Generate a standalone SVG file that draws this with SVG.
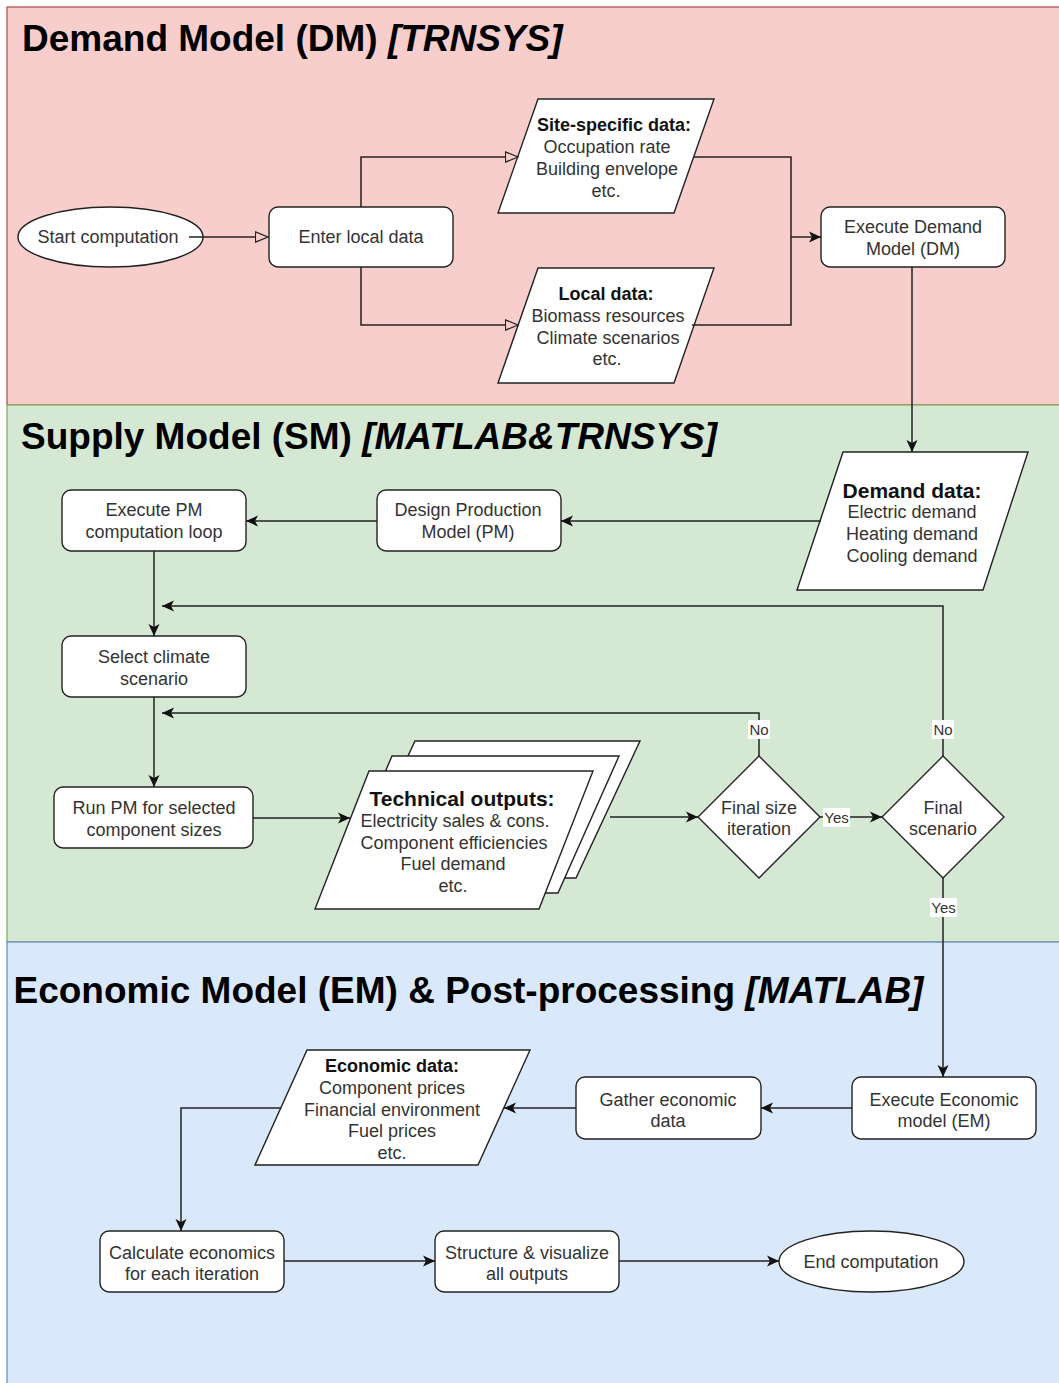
<svg xmlns="http://www.w3.org/2000/svg" width="1059" height="1383" viewBox="0 0 1059 1383">
  <defs>
    <style>
      .t { font-family: "Liberation Sans", Arial, sans-serif; font-size: 18px; fill: #333; text-anchor: middle; }
      .hd { font-weight: bold; fill: #111; }
      .big { font-size: 21px; }
      .title { font-family: "Liberation Sans", Arial, sans-serif; font-size: 37px; font-weight: bold; fill: #000; }
      .box { fill: #fff; stroke: #222; stroke-width: 1.4; }
      .edge { fill: none; stroke: #222; stroke-width: 1.5; }
      .elab { font-family: "Liberation Sans", Arial, sans-serif; font-size: 15px; fill: #333; text-anchor: middle; }
    </style>
    <marker id="arrow" viewBox="0 0 12 12" refX="12" refY="6" markerWidth="12" markerHeight="12" markerUnits="userSpaceOnUse" orient="auto">
      <path d="M0,0.5 L12,6 L0,11.5 L3,6 Z" fill="#111"/>
    </marker>
    <marker id="open" viewBox="0 0 14 12" refX="0.7" refY="6" markerWidth="14" markerHeight="12" markerUnits="userSpaceOnUse" orient="auto">
      <path d="M0.7,0.8 L13.3,6 L0.7,11.2 Z" fill="none" stroke="#222" stroke-width="1.3"/>
    </marker>
  </defs>

  <!-- swimlane backgrounds -->
  <g id="lanes">
    <rect x="7" y="7" width="1062" height="398" fill="#f8cecc" stroke="#b85450" stroke-width="1.3"/>
    <rect x="7" y="405" width="1062" height="537" fill="#d5e8d4" stroke="#82b366" stroke-width="1.3"/>
    <rect x="7" y="942" width="1062" height="450" fill="#dae8fc" stroke="#6c8ebf" stroke-width="1.3"/>
    <text class="title" x="22" y="51">Demand Model (DM) <tspan font-style="italic">[TRNSYS]</tspan></text>
    <text class="title" x="21" y="449">Supply Model (SM) <tspan font-style="italic">[MATLAB&amp;TRNSYS]</tspan></text>
    <text class="title" x="13.5" y="1003">Economic Model (EM) &amp; Post-processing <tspan font-style="italic">[MATLAB]</tspan></text>
  </g>

  <!-- Demand model nodes -->
  <g id="start">
    <ellipse class="box" cx="110.5" cy="237" rx="92.5" ry="30"/>
    <text class="t" x="108" y="243.3">Start computation</text>
  </g>
  <g id="enter-local">
    <rect class="box" x="269" y="207" width="184" height="60" rx="9"/>
    <text class="t" x="361" y="243.3">Enter local data</text>
  </g>
  <g id="site-data">
    <polygon class="box" points="538,99 714,99 674,213 498,213"/>
    <text class="t hd" x="614" y="131.3">Site-specific data:</text>
    <text class="t" x="607" y="153.3">Occupation rate</text>
    <text class="t" x="607" y="175">Building envelope</text>
    <text class="t" x="606" y="196.6">etc.</text>
  </g>
  <g id="local-data">
    <polygon class="box" points="538,268 714,268 674,383 498,383"/>
    <text class="t hd" x="606" y="300.3">Local data:</text>
    <text class="t" x="608" y="322">Biomass resources</text>
    <text class="t" x="608" y="343.6">Climate scenarios</text>
    <text class="t" x="607" y="365.3">etc.</text>
  </g>
  <g id="exec-dm">
    <rect class="box" x="821" y="207" width="184" height="60" rx="9"/>
    <text class="t" x="913" y="233">Execute Demand</text>
    <text class="t" x="913" y="254.6">Model (DM)</text>
  </g>

  <!-- Supply model nodes -->
  <g id="demand-data">
    <polygon class="box" points="843,452 1028,452 983,590 797,590"/>
    <text class="t hd big" x="912" y="497.5">Demand data:</text>
    <text class="t" x="912" y="518.3">Electric demand</text>
    <text class="t" x="912" y="540">Heating demand</text>
    <text class="t" x="912" y="561.6">Cooling demand</text>
  </g>
  <g id="design-pm">
    <rect class="box" x="377" y="490" width="184" height="61" rx="9"/>
    <text class="t" x="468" y="516.3">Design Production</text>
    <text class="t" x="468" y="538">Model (PM)</text>
  </g>
  <g id="exec-pm">
    <rect class="box" x="62" y="490" width="184" height="61" rx="9"/>
    <text class="t" x="154" y="516.3">Execute PM</text>
    <text class="t" x="154" y="538">computation loop</text>
  </g>
  <g id="select-climate">
    <rect class="box" x="62" y="636" width="184" height="61" rx="9"/>
    <text class="t" x="154" y="663">Select climate</text>
    <text class="t" x="154" y="684.6">scenario</text>
  </g>
  <g id="run-pm">
    <rect class="box" x="54" y="787" width="199" height="61" rx="9"/>
    <text class="t" x="154" y="814">Run PM for selected</text>
    <text class="t" x="154" y="835.6">component sizes</text>
  </g>
  <g id="tech-outputs">
    <polygon class="box" points="415,741 640,741 576,878 351,878"/>
    <polygon class="box" points="392,756 619,756 558,893 333,893"/>
    <polygon class="box" points="369,771 593,771 539,909 315,909"/>
    <text class="t hd big" x="462" y="805.8">Technical outputs:</text>
    <text class="t" x="455" y="827">Electricity sales &amp; cons.</text>
    <text class="t" x="454" y="848.7">Component efficiencies</text>
    <text class="t" x="453" y="870.3">Fuel demand</text>
    <text class="t" x="453" y="892">etc.</text>
  </g>
  <g id="final-size">
    <polygon class="box" points="759,756 820,817 759,878 698,817"/>
    <text class="t" x="759" y="813.6">Final size</text>
    <text class="t" x="759" y="835.3">iteration</text>
  </g>
  <g id="final-scenario">
    <polygon class="box" points="943,756 1004,817 943,878 882,817"/>
    <text class="t" x="943" y="813.6">Final</text>
    <text class="t" x="943" y="835.3">scenario</text>
  </g>

  <!-- Economic model nodes -->
  <g id="exec-em">
    <rect class="box" x="852" y="1077" width="184" height="62" rx="9"/>
    <text class="t" x="944" y="1105.6">Execute Economic</text>
    <text class="t" x="944" y="1127.3">model (EM)</text>
  </g>
  <g id="gather">
    <rect class="box" x="576" y="1077" width="185" height="62" rx="9"/>
    <text class="t" x="668" y="1105.6">Gather economic</text>
    <text class="t" x="668" y="1127.3">data</text>
  </g>
  <g id="econ-data">
    <polygon class="box" points="307,1050 530,1050 478,1165 255,1165"/>
    <text class="t hd" x="392" y="1072.3">Economic data:</text>
    <text class="t" x="392" y="1094">Component prices</text>
    <text class="t" x="392" y="1115.6">Financial environment</text>
    <text class="t" x="392" y="1137.3">Fuel prices</text>
    <text class="t" x="392" y="1159">etc.</text>
  </g>
  <g id="calc-econ">
    <rect class="box" x="100" y="1231" width="184" height="61" rx="9"/>
    <text class="t" x="192" y="1258.6">Calculate economics</text>
    <text class="t" x="192" y="1280.3">for each iteration</text>
  </g>
  <g id="structure">
    <rect class="box" x="435" y="1231" width="184" height="61" rx="9"/>
    <text class="t" x="527" y="1258.6">Structure &amp; visualize</text>
    <text class="t" x="527" y="1280.3">all outputs</text>
  </g>
  <g id="end">
    <ellipse class="box" cx="871.5" cy="1261.5" rx="92.5" ry="30.5"/>
    <text class="t" x="871" y="1267.8">End computation</text>
  </g>

  <!-- connectors -->
  <g id="connectors">
    <path class="edge" d="M189,237 H255.4" marker-end="url(#open)"/>
    <path class="edge" d="M361,207 V157 H505.4" marker-end="url(#open)"/>
    <path class="edge" d="M361,267 V325 H505.4" marker-end="url(#open)"/>
    <path class="edge" d="M694,157 H791 V237 H821" marker-end="url(#arrow)"/>
    <path class="edge" d="M692,325 H791 V237"/>
    <path class="edge" d="M912,267 V452" marker-end="url(#arrow)"/>
    <path class="edge" d="M821,521 H561" marker-end="url(#arrow)"/>
    <path class="edge" d="M377,521 H246" marker-end="url(#arrow)"/>
    <path class="edge" d="M154,551 V636" marker-end="url(#arrow)"/>
    <path class="edge" d="M154,697 V787" marker-end="url(#arrow)"/>
    <path class="edge" d="M253,818 H350" marker-end="url(#arrow)"/>
    <path class="edge" d="M610,817 H698" marker-end="url(#arrow)"/>
    <path class="edge" d="M820,817 H882" marker-end="url(#arrow)"/>
    <path class="edge" d="M759,756 V713 H162" marker-end="url(#arrow)"/>
    <path class="edge" d="M943,756 V606 H162" marker-end="url(#arrow)"/>
    <path class="edge" d="M943,878 V1077" marker-end="url(#arrow)"/>
    <path class="edge" d="M852,1108 H761" marker-end="url(#arrow)"/>
    <path class="edge" d="M576,1108 H504" marker-end="url(#arrow)"/>
    <path class="edge" d="M281,1108 H181 V1231" marker-end="url(#arrow)"/>
    <path class="edge" d="M284,1261 H435" marker-end="url(#arrow)"/>
    <path class="edge" d="M619,1261 H779" marker-end="url(#arrow)"/>

    <!-- branch labels -->
    <rect x="748" y="720" width="22" height="19" fill="#fff"/>
    <text class="elab" x="759" y="734.5">No</text>
    <rect x="932" y="720" width="22" height="19" fill="#fff"/>
    <text class="elab" x="943" y="734.5">No</text>
    <rect x="823" y="808" width="27" height="19" fill="#fff"/>
    <text class="elab" x="836.5" y="822.5">Yes</text>
    <rect x="930" y="898" width="27" height="19" fill="#fff"/>
    <text class="elab" x="943.5" y="912.5">Yes</text>
  </g>
</svg>
